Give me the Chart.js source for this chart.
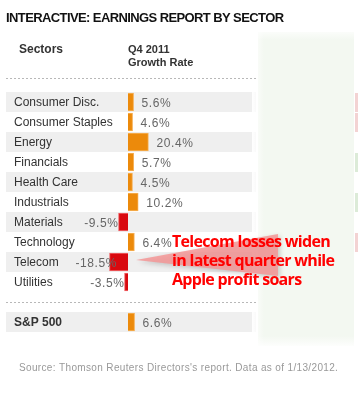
<!DOCTYPE html>
<html>
<head>
<meta charset="utf-8">
<script src="https://cdn.jsdelivr.net/npm/chart.js@4.4.1/dist/chart.umd.min.js"></script>
<style>
  html, body { margin: 0; padding: 0; background: #fff; }
  canvas { display: block; }
</style>
</head>
<body>
<canvas id="chart" width="358" height="396"></canvas>
<script>
const sectors = ['Consumer Disc.', 'Consumer Staples', 'Energy', 'Financials', 'Health Care',
    'Industrials', 'Materials', 'Technology', 'Telecom', 'Utilities'];
const growth = [5.6, 4.6, 20.4, 5.7, 4.5, 10.2, -9.5, 6.4, -18.5, -3.5];
const indexLabel = 'S&P 500';
const indexGrowth = 6.6;

const title = 'INTERACTIVE: EARNINGS REPORT BY SECTOR';
const colHeaders = ['Sectors', 'Q4 2011', 'Growth Rate'];
const note = ['Telecom losses widen', 'in latest quarter while', 'Apple profit soars'];
const source = "Source: Thomson Reuters Directors's report. Data as of 1/13/2012.";

// spacer row between the sectors and the index row
const labels = [...sectors, '', indexLabel];
const values = [...growth, null, indexGrowth];

const ORANGE = '#ec8a0b';
const RED = '#d9090f';

// tinted cells peeking out at the right edge (hidden column behind the panel)
const edgeTints = { 0: '#f3d3d3', 1: '#f3d3d3', 3: '#dcebd8', 5: '#dcebd8', 7: '#f3d3d3' };

function dotted(ctx, x1, x2, y) {
    ctx.save();
    ctx.strokeStyle = '#b8b8b8';
    ctx.lineWidth = 1;
    ctx.setLineDash([2, 2]);
    ctx.beginPath();
    ctx.moveTo(x1, y + 0.5);
    ctx.lineTo(x2, y + 0.5);
    ctx.stroke();
    ctx.restore();
}

const tablePlugin = {
    id: 'table',
    beforeDraw(chart) {
        const ctx = chart.ctx;
        const y = chart.scales.y;
        ctx.save();
        ctx.fillStyle = '#fff';
        ctx.fillRect(0, 0, chart.width, chart.height);

        // striped rows
        labels.forEach((lab, i) => {
            if (lab === '') return;
            const c = y.getPixelForValue(i);
            if (i % 2 === 0 || lab === indexLabel) {
                ctx.fillStyle = '#efefef';
                ctx.fillRect(6, c - 10, 250, 20);
            }
            if (edgeTints[i]) {
                ctx.fillStyle = edgeTints[i];
                ctx.fillRect(355, c - 9, 3, 19);
            }
        });

        // side panel
        ctx.fillStyle = '#f3f8f1';
        ctx.fillRect(258, 32, 96, 314);
        let g = ctx.createLinearGradient(252, 0, 264, 0);
        g.addColorStop(0, 'rgba(255,255,255,1)');
        g.addColorStop(1, 'rgba(255,255,255,0)');
        ctx.fillStyle = g;
        ctx.fillRect(252, 28, 12, 320);
        g = ctx.createLinearGradient(0, 28, 0, 40);
        g.addColorStop(0, 'rgba(255,255,255,1)');
        g.addColorStop(1, 'rgba(255,255,255,0)');
        ctx.fillStyle = g;
        ctx.fillRect(252, 28, 104, 12);
        g = ctx.createLinearGradient(0, 336, 0, 348);
        g.addColorStop(0, 'rgba(255,255,255,0)');
        g.addColorStop(1, 'rgba(255,255,255,1)');
        ctx.fillStyle = g;
        ctx.fillRect(252, 336, 104, 12);
        ctx.restore();
    },
    afterDraw(chart) {
        const ctx = chart.ctx;
        const x = chart.scales.x;
        const y = chart.scales.y;
        const zero = x.getPixelForValue(0);
        ctx.save();

        ctx.fillStyle = '#111';
        ctx.font = 'bold 13px "Liberation Sans", Arial, sans-serif';
        ctx.letterSpacing = '-0.6px';
        ctx.textBaseline = 'alphabetic';
        ctx.fillText(title, 6, 22);
        ctx.letterSpacing = '0px';

        ctx.fillStyle = '#333';
        ctx.font = 'bold 12px "Liberation Sans", Arial, sans-serif';
        ctx.fillText(colHeaders[0], 19, 53);
        ctx.font = 'bold 11px "Liberation Sans", Arial, sans-serif';
        ctx.fillText(colHeaders[1], 128, 53);
        ctx.fillText(colHeaders[2], 128, 66);

        dotted(ctx, 6, 256, 78);
        dotted(ctx, 6, 256, y.getPixelForValue(10));

        labels.forEach((lab, i) => {
            if (lab === '') return;
            const c = y.getPixelForValue(i);
            ctx.fillStyle = '#333';
            ctx.font = (lab === indexLabel ? 'bold ' : '') + '12px "Liberation Sans", Arial, sans-serif';
            ctx.textAlign = 'left';
            ctx.letterSpacing = '0px';
            ctx.fillText(lab, 14, c + 4);

            const v = values[i];
            const end = x.getPixelForValue(v);
            const txt = v.toFixed(1) + '%';
            ctx.fillStyle = '#666';
            ctx.font = '12px "Liberation Sans", Arial, sans-serif';
            ctx.letterSpacing = '0.6px';
            if (v >= 0) {
                ctx.textAlign = 'left';
                ctx.fillText(txt, end + 8, c + 5);
            } else {
                ctx.textAlign = 'right';
                ctx.fillText(txt, Math.max(end, zero - 11), c + 5);
            }
        });
        ctx.letterSpacing = '0px';

        // callout wedge pointing at Telecom
        const ty = y.getPixelForValue(8);
        ctx.save();
        ctx.shadowColor = 'rgba(0,0,0,0.22)';
        ctx.shadowBlur = 5;
        ctx.shadowOffsetX = 2;
        ctx.shadowOffsetY = 2;
        ctx.fillStyle = 'rgba(244,150,150,0.85)';
        ctx.beginPath();
        ctx.moveTo(136, ty - 2);
        ctx.lineTo(278, ty - 28);
        ctx.lineTo(278, ty + 14);
        ctx.closePath();
        ctx.fill();
        ctx.restore();

        ctx.fillStyle = '#ff0000';
        ctx.font = 'bold 16px "Open Sans", sans-serif';
        ctx.letterSpacing = '-0.7px';
        ctx.textAlign = 'left';
        note.forEach((line, k) => ctx.fillText(line, 172, 247 + k * 19));
        ctx.letterSpacing = '0px';

        ctx.fillStyle = '#999';
        ctx.font = '10px "Liberation Sans", Arial, sans-serif';
        ctx.letterSpacing = '0.35px';
        ctx.fillText(source, 19, 371);
        ctx.restore();
    }
};

new Chart(document.getElementById('chart'), {
    type: 'bar',
    data: {
        labels: labels,
        datasets: [{
            data: values,
            backgroundColor: values.map(v => v >= 0 ? ORANGE : RED),
            borderColor: values.map(v => v >= 0 ? '#f6b25a' : '#f0686b'),
            borderWidth: 1,
            borderSkipped: 'start',
            barThickness: 18
        }]
    },
    options: {
        indexAxis: 'y',
        responsive: false,
        animation: false,
        devicePixelRatio: 1,
        layout: { padding: { left: 98, right: 103, top: 92, bottom: 64 } },
        plugins: { legend: { display: false }, tooltip: { enabled: false } },
        scales: {
            x: { display: false, min: -30, max: 127 },
            y: { display: false }
        }
    },
    plugins: [tablePlugin]
});
</script>
</body>
</html>
